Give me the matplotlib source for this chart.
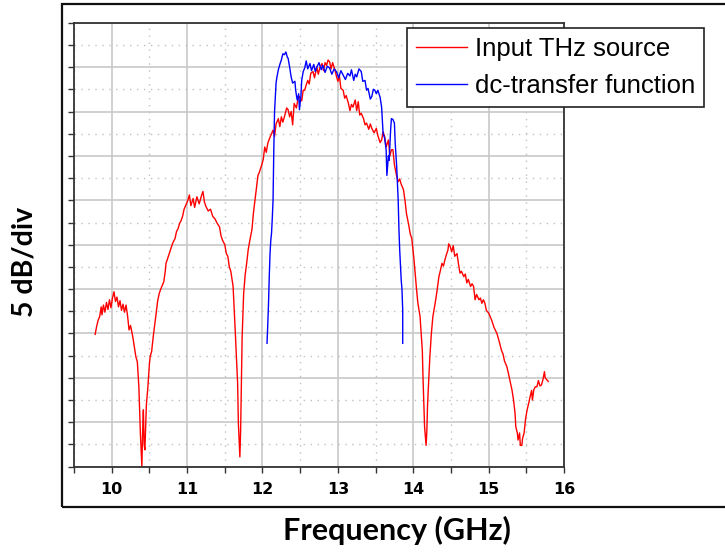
import matplotlib
matplotlib.use("Agg")
import matplotlib.pyplot as plt
from matplotlib.patches import Rectangle
from matplotlib.ticker import MultipleLocator, NullFormatter

# Input THz source (red), frequency in GHz, level in dB (top of plot = 0 dB)
src_freq = [9.78, 9.80, 9.82, 9.84, 9.86, 9.87, 9.89, 9.91, 9.93, 9.95,
            9.97, 9.99, 10.01, 10.03, 10.05, 10.07, 10.09, 10.11, 10.13, 10.15,
            10.17, 10.19, 10.21, 10.23, 10.25, 10.28, 10.30, 10.32, 10.34, 10.36,
            10.38, 10.40, 10.41, 10.42, 10.43, 10.44, 10.46, 10.48, 10.50, 10.51,
            10.53, 10.55, 10.57, 10.59, 10.61, 10.63, 10.65, 10.67, 10.69, 10.71,
            10.72, 10.74, 10.77, 10.79, 10.81, 10.84, 10.86, 10.88, 10.90, 10.92,
            10.94, 10.96, 10.98, 11.01, 11.03, 11.05, 11.08, 11.10, 11.13, 11.16,
            11.19, 11.21, 11.23, 11.25, 11.28, 11.31, 11.34, 11.37, 11.40, 11.43,
            11.45, 11.47, 11.50, 11.52, 11.54, 11.56, 11.58, 11.61, 11.64, 11.67,
            11.68, 11.70, 11.71, 11.73, 11.75, 11.77, 11.79, 11.81, 11.83, 11.86,
            11.88, 11.90, 11.92, 11.94, 11.96, 11.99, 12.01, 12.03, 12.05, 12.07,
            12.09, 12.11, 12.14, 12.16, 12.18, 12.21, 12.23, 12.25, 12.27, 12.30,
            12.32, 12.34, 12.36, 12.38, 12.40, 12.42, 12.45, 12.47, 12.49, 12.52,
            12.54, 12.56, 12.58, 12.60, 12.62, 12.64, 12.67, 12.69, 12.72, 12.74,
            12.76, 12.79, 12.81, 12.83, 12.85, 12.87, 12.89, 12.91, 12.93, 12.96,
            12.98, 13.00, 13.02, 13.04, 13.07, 13.09, 13.11, 13.14, 13.16, 13.18,
            13.20, 13.23, 13.25, 13.27, 13.29, 13.31, 13.34, 13.36, 13.38, 13.41,
            13.43, 13.45, 13.48, 13.51, 13.53, 13.56, 13.58, 13.60, 13.62, 13.64,
            13.67, 13.69, 13.71, 13.73, 13.75, 13.78, 13.80, 13.82, 13.84, 13.87,
            13.89, 13.91, 13.94, 13.96, 13.98, 14.01, 14.04, 14.06, 14.09, 14.12,
            14.13, 14.15, 14.17, 14.18, 14.19, 14.22, 14.24, 14.26, 14.29, 14.31,
            14.34, 14.36, 14.38, 14.40, 14.42, 14.44, 14.46, 14.47, 14.49, 14.51,
            14.53, 14.55, 14.58, 14.60, 14.62, 14.64, 14.67, 14.69, 14.71, 14.73,
            14.76, 14.78, 14.80, 14.82, 14.84, 14.87, 14.89, 14.91, 14.93, 14.95,
            14.97, 15.00, 15.02, 15.04, 15.07, 15.11, 15.14, 15.17, 15.19, 15.21,
            15.24, 15.26, 15.28, 15.31, 15.33, 15.35, 15.36, 15.38, 15.39, 15.41,
            15.42, 15.44, 15.45, 15.47, 15.49, 15.51, 15.53, 15.55, 15.57, 15.58,
            15.60, 15.62, 15.64, 15.66, 15.68, 15.70, 15.72, 15.74, 15.75, 15.77,
            15.79]
src_db = [-35.1, -34.2, -33.5, -33.1, -32.0, -32.9, -31.8, -32.6, -31.5, -32.3,
          -31.2, -32.1, -31.0, -30.3, -31.4, -30.9, -32.0, -31.3, -32.4, -31.7,
          -32.6, -31.8, -33.0, -34.6, -34.1, -35.4, -36.5, -37.6, -38.2, -41.0,
          -46.2, -50.0, -46.0, -43.6, -47.5, -48.1, -43.0, -41.0, -38.4, -37.6,
          -37.0, -35.4, -34.0, -32.5, -31.3, -30.5, -30.0, -29.6, -29.2, -28.0,
          -27.1, -26.6, -25.8, -25.3, -24.8, -24.3, -23.5, -23.2, -22.6, -22.3,
          -21.8, -21.0, -20.6, -20.0, -19.4, -20.6, -19.8, -20.8, -19.6, -20.4,
          -19.5, -19.0, -20.2, -20.7, -21.2, -21.0, -21.8, -22.1, -22.6, -23.0,
          -24.0, -24.5, -25.0, -26.0, -26.3, -27.5, -28.0, -29.7, -35.0, -40.6,
          -45.1, -48.9, -45.9, -35.4, -30.5, -28.4, -27.1, -25.6, -24.6, -23.3,
          -21.4, -20.0, -18.5, -17.2, -16.8, -16.0, -15.4, -14.0, -14.6, -13.6,
          -13.1, -12.7, -12.1, -12.8, -11.4, -10.8, -11.7, -10.6, -11.2, -10.3,
          -9.6, -9.8, -10.6, -10.0, -11.5, -9.1, -9.6, -8.6, -8.3, -8.8,
          -7.6, -7.6, -7.0, -6.5, -6.9, -5.7, -5.5, -6.2, -5.0, -5.8,
          -5.1, -4.6, -5.4, -4.5, -4.8, -4.2, -4.4, -5.2, -4.5, -5.3,
          -6.0, -6.6, -6.0, -7.4, -7.6, -8.5, -8.2, -9.1, -9.9, -9.2,
          -9.5, -8.7, -9.9, -8.9, -10.4, -10.2, -10.8, -11.5, -11.3, -12.0,
          -11.4, -11.9, -12.4, -11.9, -12.7, -13.5, -13.2, -12.3, -12.8, -14.0,
          -13.2, -15.0, -14.3, -14.3, -16.0, -17.3, -17.9, -17.6, -18.2, -18.8,
          -20.0, -21.5, -22.8, -23.8, -24.3, -26.7, -29.7, -31.5, -33.1, -36.9,
          -40.2, -45.5, -47.6, -46.0, -42.9, -37.6, -35.0, -33.1, -31.6, -30.5,
          -28.6, -27.9, -27.1, -27.4, -26.7, -26.1, -25.6, -24.9, -25.2, -25.8,
          -25.1, -26.3, -26.0, -27.2, -28.2, -28.0, -28.6, -28.3, -29.3, -28.9,
          -29.7, -29.4, -29.7, -31.2, -30.6, -31.2, -31.0, -31.6, -31.2, -31.6,
          -32.4, -32.7, -33.1, -33.5, -34.3, -35.0, -35.9, -36.9, -37.3, -38.1,
          -38.7, -39.4, -40.2, -41.4, -42.5, -44.0, -45.5, -46.2, -47.0, -46.2,
          -47.6, -47.6, -46.8, -46.2, -44.6, -43.6, -42.9, -42.1, -41.4, -42.5,
          -41.3, -41.0, -41.0, -40.3, -40.9, -40.8, -40.2, -39.3, -40.0, -40.2,
          -40.4]

# dc-transfer function (blue)
dc_freq = [12.06, 12.07, 12.08, 12.09, 12.10, 12.11, 12.12, 12.13, 12.14, 12.15,
           12.16, 12.18, 12.19, 12.21, 12.23, 12.25, 12.27, 12.29, 12.31, 12.33,
           12.34, 12.36, 12.38, 12.40, 12.43, 12.44, 12.46, 12.48, 12.49, 12.51,
           12.52, 12.54, 12.56, 12.58, 12.60, 12.63, 12.65, 12.68, 12.70, 12.72,
           12.75, 12.78, 12.80, 12.83, 12.86, 12.89, 12.92, 12.95, 12.98, 13.01,
           13.04, 13.07, 13.10, 13.13, 13.16, 13.18, 13.21, 13.23, 13.25, 13.28,
           13.31, 13.33, 13.36, 13.38, 13.40, 13.43, 13.45, 13.47, 13.49, 13.51,
           13.53, 13.56, 13.58, 13.60, 13.62, 13.64, 13.65, 13.67, 13.68, 13.70,
           13.71, 13.73, 13.75, 13.76, 13.78, 13.80, 13.81, 13.82, 13.84, 13.85,
           13.86, 13.86]
dc_db = [-36.1, -34.0, -31.6, -28.5, -26.0, -24.5, -23.7, -22.0, -20.0, -14.3,
         -10.0, -6.8, -6.2, -5.3, -4.7, -4.2, -3.5, -3.6, -3.3, -3.9,
         -4.0, -5.0, -6.1, -6.8, -6.6, -7.6, -8.7, -8.0, -9.8, -8.2,
         -6.5, -5.5, -5.1, -4.3, -5.2, -4.6, -5.4, -4.7, -5.5, -5.0,
         -4.5, -5.3, -4.8, -5.6, -4.9, -5.1, -5.8, -5.2, -5.5, -6.2,
         -5.4, -5.9, -6.4, -5.7, -6.0, -5.3, -6.5, -5.8, -6.1, -5.2,
         -5.5, -6.6, -6.5, -7.6, -7.4, -8.6, -8.3, -7.5, -7.6, -8.0,
         -7.6, -8.4, -9.5, -12.5, -13.0, -14.3, -17.2, -15.0, -15.5, -12.0,
         -10.8, -10.9, -11.3, -13.5, -16.2, -20.0, -23.3, -25.6, -29.0, -30.0,
         -32.4, -36.1]

x_ticks = [10, 11, 12, 13, 14, 15, 16]
series_names = ["Input THz source", "dc-transfer function"]

fig = plt.figure(figsize=(7.25, 5.54), dpi=100)
ax = fig.add_axes([0.1021, 0.1576, 0.6759, 0.8014])

ax.plot(src_freq, src_db, color="#ff0000", lw=1.0, label=series_names[0])
ax.plot(dc_freq, dc_db, color="#0000ff", lw=1.0, label=series_names[1])

ax.set_xlim(9.5, 16)
ax.set_ylim(-50, 0)
ax.set_xticks(x_ticks)
ax.xaxis.set_minor_locator(MultipleLocator(0.5))
ax.yaxis.set_major_locator(MultipleLocator(5))
ax.yaxis.set_minor_locator(MultipleLocator(2.5))
ax.yaxis.set_major_formatter(NullFormatter())

ax.grid(which="major", color="#c8c8c8", lw=1.2, ls="-")
ax.grid(which="minor", color="#c0c0c0", lw=1.0, ls=(0, (1, 4)))
ax.set_axisbelow(True)

for s in ax.spines.values():
    s.set_color("#333333")
    s.set_linewidth(1.3)

ax.tick_params(which="both", direction="out", length=4, width=1, color="#333333")
ax.tick_params(axis="x", which="major", pad=7)
for lbl in ax.get_xticklabels():
    lbl.set_fontfamily("Liberation Sans Narrow")
    lbl.set_fontweight("bold")
    lbl.set_fontsize(11.5)

leg = fig.legend(loc="upper left", bbox_to_anchor=(0.561, 0.949), borderaxespad=0,
                 prop={"family": "Liberation Sans", "size": 18.5},
                 frameon=True, fancybox=False, framealpha=1, edgecolor="#222222",
                 handlelength=2.0, handletextpad=0.3, labelspacing=0.5,
                 borderpad=0.35)
leg.get_frame().set_linewidth(1.2)

fig.text(0.034, 0.527, "5 dB/div", rotation=90, ha="center", va="center",
         fontfamily="Lato", fontweight="bold", fontsize=20.5)
fig.text(0.548, 0.043, "Frequency (GHz)", ha="center", va="center",
         fontfamily="Lato", fontweight="bold", fontsize=22)

# outer frame around the plot (right edge falls outside the image)
fig.patches.append(Rectangle((0.0855, 0.0848), 1.0, 0.9073, transform=fig.transFigure,
                             fill=False, edgecolor="#111111", lw=1.6))

fig.savefig("out.png", dpi=100)
